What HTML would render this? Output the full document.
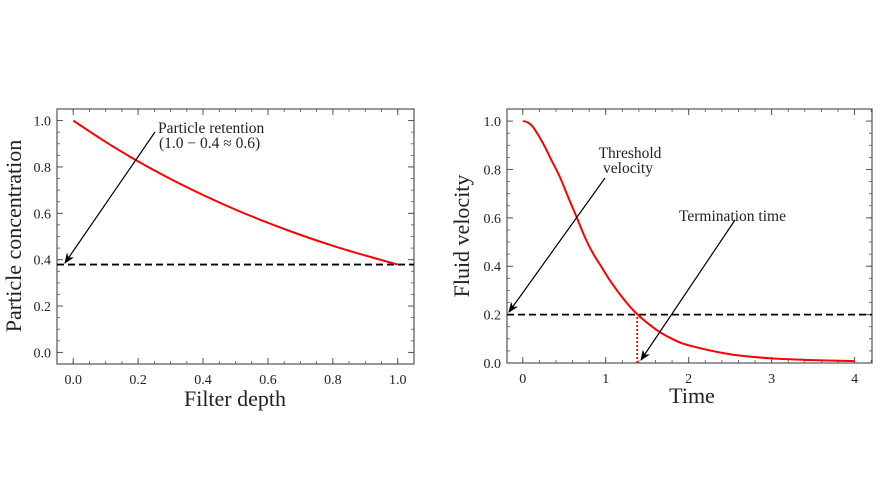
<!DOCTYPE html>
<html><head><meta charset="utf-8"><style>
body{margin:0;background:#fff;}
svg text{font-family:"Liberation Serif",serif;fill:#222;}
</style></head><body>
<svg id="c" width="886" height="496" xmlns="http://www.w3.org/2000/svg">
<defs><marker id="ah" viewBox="0 0 10 10" refX="9" refY="5" markerWidth="9" markerHeight="9" orient="auto-start-reverse"><path d="M0,1 L10,5 L0,9 L3,5 z" fill="#000"/></marker></defs>
</svg>
<script>
// Left chart data
const depthX=[0,0.1,0.2,0.3,0.4,0.5,0.6,0.7,0.8,0.9,1.0];
const concY=[1.0,0.908,0.824,0.748,0.679,0.616,0.559,0.507,0.460,0.418,0.379];
const retentionLevel=0.379;
const leftXTicks=[0,0.2,0.4,0.6,0.8,1.0];
const leftYTicks=[0,0.2,0.4,0.6,0.8,1.0];
// Right chart data
const timeX=[0,0.05,0.12,0.245,0.345,0.446,0.546,0.647,0.747,0.847,0.948,1.048,1.21,1.37,1.6,1.8,2.0,2.5,3.0,3.5,4.0];
const velY=[1.0,0.996,0.977,0.908,0.839,0.77,0.687,0.605,0.522,0.453,0.398,0.343,0.267,0.205,0.14,0.1,0.073,0.036,0.019,0.012,0.008];
const thresholdLevel=0.2;
const terminationTime=1.38;
const rightXTicks=[0,1,2,3,4];
const rightYTicks=[0,0.2,0.4,0.6,0.8,1.0];

const svg=document.getElementById('c');
const NS='http://www.w3.org/2000/svg';
function mk(tag,attrs,parent){const e=document.createElementNS(NS,tag);for(const k in attrs)e.setAttribute(k,attrs[k]);(parent||svg).appendChild(e);return e;}
function smooth(pts){
  let d='M'+pts[0][0]+','+pts[0][1];
  for(let i=0;i<pts.length-1;i++){
    const p0=pts[i-1]||pts[i],p1=pts[i],p2=pts[i+1],p3=pts[i+2]||p2;
    const c1=[p1[0]+(p2[0]-p0[0])/6,p1[1]+(p2[1]-p0[1])/6];
    const c2=[p2[0]-(p3[0]-p1[0])/6,p2[1]-(p3[1]-p1[1])/6];
    d+=' C'+c1.join(',')+' '+c2.join(',')+' '+p2.join(',');
  }
  return d;
}

function panel(o){
  const g=mk('g',{});
  
  
  const sx=v=>o.x0+(v-o.xd[0])/(o.xd[1]-o.xd[0])*(o.x1-o.x0);
  const sy=v=>o.y1-(v-o.yd[0])/(o.yd[1]-o.yd[0])*(o.y1-o.y0);
  for(let v=o.xMinStart;v<=o.xd[1]+1e-9;v+=o.xMinor){if(v<o.xd[0])continue;const X=sx(v);
    mk('line',{x1:X,x2:X,y1:o.y1,y2:o.y1-3,stroke:'#555','stroke-width':0.8},g);
    mk('line',{x1:X,x2:X,y1:o.y0,y2:o.y0+3,stroke:'#555','stroke-width':0.8},g);}
  for(let v=o.yMinStart;v<=o.yd[1]+1e-9;v+=o.yMinor){if(v<o.yd[0])continue;const Y=sy(v);
    mk('line',{x1:o.x0,x2:o.x0+3,y1:Y,y2:Y,stroke:'#555','stroke-width':0.8},g);
    mk('line',{x1:o.x1,x2:o.x1-3,y1:Y,y2:Y,stroke:'#555','stroke-width':0.8},g);}
  o.xt.forEach(v=>{const X=sx(v);
    mk('line',{x1:X,x2:X,y1:o.y1,y2:o.y1-6,stroke:'#555','stroke-width':1},g);
    mk('line',{x1:X,x2:X,y1:o.y0,y2:o.y0+6,stroke:'#555','stroke-width':1},g);
    const t=mk('text',{x:X,y:o.y1+20,'text-anchor':'middle','font-size':14},g);t.textContent=o.xf(v);
    });
  o.yt.forEach(v=>{const Y=sy(v);
    mk('line',{x1:o.x0,x2:o.x0+6,y1:Y,y2:Y,stroke:'#555','stroke-width':1},g);
    mk('line',{x1:o.x1,x2:o.x1-6,y1:Y,y2:Y,stroke:'#555','stroke-width':1},g);
    const t=mk('text',{x:o.x0-6,y:Y+5,'text-anchor':'end','font-size':14},g);t.textContent=v.toFixed(1);
    });
  mk('rect',{x:o.x0,y:o.y0,width:o.x1-o.x0,height:o.y1-o.y0,fill:'none',stroke:'#555','stroke-width':1.2},g);
  return {g,sx,sy};
}

// LEFT
const L=panel({name:'left-chart',x0:57,x1:414,y0:109,y1:364,xd:[-0.05,1.05],yd:[-0.05,1.05],
  xt:leftXTicks,yt:leftYTicks,xMinor:0.05,xMinStart:0,yMinor:0.05,yMinStart:0,xf:v=>v.toFixed(1)});
let hl=mk('line',{x1:57,x2:414,y1:L.sy(retentionLevel),y2:L.sy(retentionLevel),stroke:'#000','stroke-width':1.8,'stroke-dasharray':'7,4'},L.g);

let lp=mk('path',{d:smooth(depthX.map((x,i)=>[L.sx(x),L.sy(concY[i])])),fill:'none',stroke:'#f00','stroke-width':2},L.g);

let la=mk('line',{x1:155,y1:132,x2:65,y2:263,stroke:'#000','stroke-width':1.2,'marker-end':'url(#ah)'},L.g);

let t1=mk('text',{x:158,y:133,'font-size':15.5},L.g);t1.textContent='Particle retention';

let t2=mk('text',{x:159,y:148,'font-size':15.5},L.g);t2.textContent='(1.0 − 0.4 ≈ 0.6)';

let lx=mk('text',{x:235,y:406,'text-anchor':'middle','font-size':22},L.g);lx.textContent='Filter depth';

let ly=mk('text',{x:0,y:0,'text-anchor':'middle','font-size':22,transform:'translate(21,236) rotate(-90)'},L.g);ly.textContent='Particle concentration';


// RIGHT
const R=panel({name:'right-chart',x0:507,x1:872,y0:109,y1:363,xd:[-0.19,4.21],yd:[0,1.05],
  xt:rightXTicks,yt:rightYTicks,xMinor:0.2,xMinStart:0,yMinor:0.05,yMinStart:0,xf:v=>String(v)});
let hr=mk('line',{x1:507,x2:872,y1:R.sy(thresholdLevel),y2:R.sy(thresholdLevel),stroke:'#000','stroke-width':1.8,'stroke-dasharray':'7,4'},R.g);

let vl=mk('line',{x1:R.sx(terminationTime),x2:R.sx(terminationTime),y1:R.sy(0),y2:R.sy(thresholdLevel),stroke:'#f00','stroke-width':1.8,'stroke-dasharray':'2,2'},R.g);

let rp=mk('path',{d:smooth(timeX.map((x,i)=>[R.sx(x),R.sy(velY[i])])),fill:'none',stroke:'#f00','stroke-width':2,'stroke-linejoin':'round'},R.g);

let a1=mk('line',{x1:605,y1:178,x2:509,y2:312,stroke:'#000','stroke-width':1.2,'marker-end':'url(#ah)'},R.g);

let a2=mk('line',{x1:735,y1:220,x2:641,y2:360,stroke:'#000','stroke-width':1.2,'marker-end':'url(#ah)'},R.g);

let r1=mk('text',{x:630,y:158,'text-anchor':'middle','font-size':15.5},R.g);r1.textContent='Threshold';

let r2=mk('text',{x:628,y:173,'text-anchor':'middle','font-size':15.5},R.g);r2.textContent='velocity';

let r3=mk('text',{x:679,y:221,'font-size':15.5},R.g);r3.textContent='Termination time';

let rx=mk('text',{x:692,y:403,'text-anchor':'middle','font-size':22},R.g);rx.textContent='Time';

let ry=mk('text',{x:0,y:0,'text-anchor':'middle','font-size':22,transform:'translate(469,236) rotate(-90)'},R.g);ry.textContent='Fluid velocity';

</script>
</body></html>
